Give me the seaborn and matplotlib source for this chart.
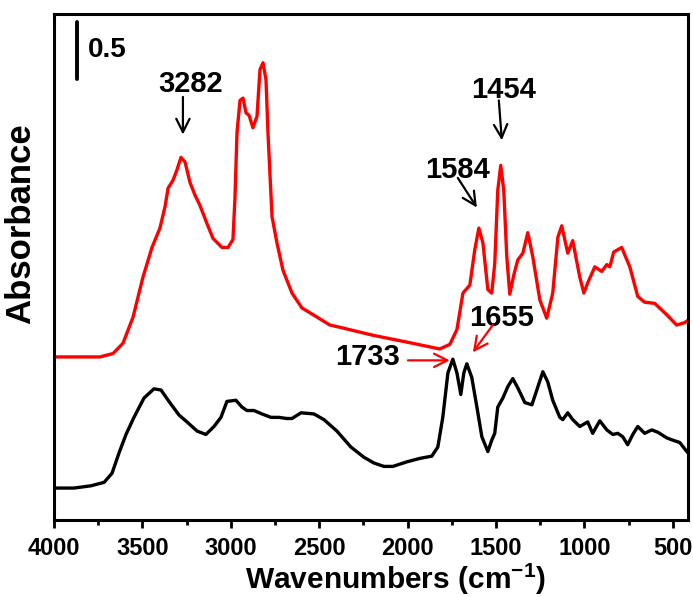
import numpy as np
import pandas as pd
import seaborn as sns
import matplotlib.pyplot as plt

# --------------------------
# Spectra (wavenumber cm-1, absorbance)
# --------------------------
red_wn = [4000, 3887, 3740, 3666, 3610, 3553, 3497, 3446, 3401, 3372, 3355, 3327,
          3305, 3282, 3259, 3231, 3203, 3175, 3135, 3101, 3050, 3016, 2988, 2977,
          2965, 2948, 2931, 2914, 2897, 2875, 2852, 2835, 2818, 2801, 2790, 2767,
          2739, 2705, 2654, 2598, 2513, 2440, 2383, 2196, 2004, 1818, 1761, 1721,
          1687, 1648, 1620, 1597, 1574, 1546, 1524, 1507, 1490, 1473, 1456, 1439,
          1422, 1399, 1377, 1348, 1320, 1292, 1252, 1213, 1179, 1150, 1128, 1094,
          1066, 1026, 1003, 981, 941, 902, 873, 856, 834, 789, 743, 698, 659, 602,
          534, 478, 433, 416]
red_abs = [1.43, 1.43, 1.43, 1.46, 1.55, 1.78, 2.13, 2.39, 2.56, 2.75, 2.91, 2.98,
           3.07, 3.18, 3.14, 2.96, 2.85, 2.76, 2.60, 2.47, 2.39, 2.39, 2.46, 2.81,
           3.40, 3.68, 3.70, 3.57, 3.55, 3.44, 3.54, 3.95, 4.01, 3.86, 3.40, 2.66,
           2.43, 2.19, 1.99, 1.86, 1.78, 1.71, 1.69, 1.62, 1.56, 1.50, 1.54, 1.67,
           1.99, 2.06, 2.37, 2.56, 2.43, 2.02, 1.99, 2.25, 2.89, 3.11, 2.89, 2.31,
           1.98, 2.15, 2.28, 2.34, 2.52, 2.31, 1.93, 1.77, 1.99, 2.48, 2.58, 2.34,
           2.45, 2.13, 1.99, 2.08, 2.22, 2.18, 2.24, 2.22, 2.35, 2.39, 2.22, 1.96,
           1.91, 1.90, 1.80, 1.71, 1.73, 1.75]

black_wn = [4000, 3887, 3791, 3717, 3672, 3632, 3593, 3548, 3491, 3435, 3395, 3350,
            3293, 3248, 3191, 3141, 3095, 3056, 3022, 2971, 2937, 2909, 2869, 2824,
            2773, 2728, 2683, 2654, 2603, 2530, 2473, 2400, 2321, 2247, 2191, 2134,
            2083, 2004, 1931, 1863, 1829, 1801, 1772, 1744, 1721, 1699, 1682, 1665,
            1637, 1608, 1580, 1546, 1524, 1507, 1490, 1461, 1433, 1405, 1377, 1337,
            1297, 1269, 1235, 1207, 1179, 1139, 1122, 1094, 1066, 1026, 981, 953,
            913, 873, 839, 811, 783, 755, 726, 698, 659, 619, 585, 534, 500, 461, 415]
black_abs = [0.28, 0.28, 0.30, 0.33, 0.41, 0.59, 0.75, 0.90, 1.07, 1.15, 1.14, 1.04,
             0.92, 0.86, 0.78, 0.75, 0.82, 0.90, 1.04, 1.05, 0.99, 0.96, 0.96, 0.93,
             0.90, 0.90, 0.89, 0.89, 0.94, 0.93, 0.88, 0.78, 0.64, 0.55, 0.50, 0.47,
             0.47, 0.51, 0.54, 0.56, 0.64, 0.90, 1.29, 1.41, 1.29, 1.10, 1.29, 1.37,
             1.25, 0.99, 0.73, 0.60, 0.70, 0.76, 0.99, 1.07, 1.17, 1.24, 1.16, 1.03,
             1.01, 1.14, 1.30, 1.21, 1.05, 0.90, 0.88, 0.94, 0.88, 0.82, 0.86, 0.76,
             0.87, 0.79, 0.75, 0.76, 0.73, 0.66, 0.75, 0.82, 0.76, 0.79, 0.77, 0.72,
             0.70, 0.68, 0.59]

# annotation labels: text, text position, arrow start, arrow end, colour
peak_labels = ["3282", "1454", "1584", "1655", "1733"]
label_xy = [(3225, 3.82), (1456, 3.77), (1718, 3.07), (1467, 1.77), (2225, 1.43)]
arrow_from = [(3271, 3.71), (1484, 3.68), (1716, 3.00), (1518, 1.71), (1998, 1.40)]
arrow_to = [(3271, 3.38), (1467, 3.33), (1608, 2.74), (1631, 1.47), (1761, 1.40)]
arrow_colors = ["black", "black", "black", "red", "red"]

df_red = pd.DataFrame({"wn": red_wn, "A": red_abs})
df_black = pd.DataFrame({"wn": black_wn, "A": black_abs})

# --------------------------
# Style
# --------------------------
sns.set_style("ticks")
plt.rcParams["font.family"] = ["Liberation Sans", "DejaVu Sans"]
plt.rcParams["font.weight"] = "bold"
plt.rcParams["text.color"] = "black"
plt.rcParams["axes.labelcolor"] = "black"
plt.rcParams["axes.edgecolor"] = "black"
plt.rcParams["xtick.color"] = "black"
plt.rcParams["mathtext.fontset"] = "custom"
plt.rcParams["mathtext.rm"] = "Liberation Sans:bold"
plt.rcParams["mathtext.bf"] = "Liberation Sans:bold"

fig = plt.figure(figsize=(6.93, 5.97), dpi=100)
ax = fig.add_axes([0.078, 0.129, 0.915, 0.848])

line_kw = dict(lw=2.4, sort=False, ax=ax, solid_joinstyle="round")
sns.lineplot(data=df_red, x="wn", y="A", color="red", **line_kw)
sns.lineplot(data=df_black, x="wn", y="A", color="black", **line_kw)

ax.set_xlim(4000, 413)
ax.set_ylim(0, 4.44)
ax.set_xticks([4000, 3500, 3000, 2500, 2000, 1500, 1000, 500])
ax.set_xticks(np.arange(3750, 400, -500), minor=True)
ax.set_yticks([])
ax.tick_params(axis="x", which="major", direction="out", length=6, width=2,
               labelsize=17, pad=6)
ax.tick_params(axis="x", which="minor", direction="out", length=3.5, width=2)
for lab in ax.get_xticklabels():
    lab.set_fontweight("bold")
for sp in ax.spines.values():
    sp.set_linewidth(2.2)

ax.set_xlabel("Wavenumbers (cm$^{-1}$)", fontsize=21.5, fontweight="bold")
ax.xaxis.set_label_coords(0.538, -0.081)
ax.xaxis.label.set_va("top")
ax.set_ylabel("Absorbance", fontsize=25, fontweight="bold")
ax.yaxis.set_label_coords(-0.026, 0.585)

# scale bar
ax.plot([3870, 3870], [3.87, 4.37], color="black", lw=2.8)
ax.text(3808, 4.12, "0.5", fontsize=20, fontweight="bold", ha="left", va="center")

for lab, (tx, ty), p0, p1, c in zip(peak_labels, label_xy, arrow_from, arrow_to,
                                     arrow_colors):
    ax.text(tx, ty, lab, fontsize=21, fontweight="bold", ha="center", va="center")
    ax.annotate("", xy=p1, xytext=p0,
                arrowprops=dict(arrowstyle="->", color=c, lw=1.6,
                                mutation_scale=24, shrinkA=0, shrinkB=0))

plt.savefig("out.png", dpi=100)
